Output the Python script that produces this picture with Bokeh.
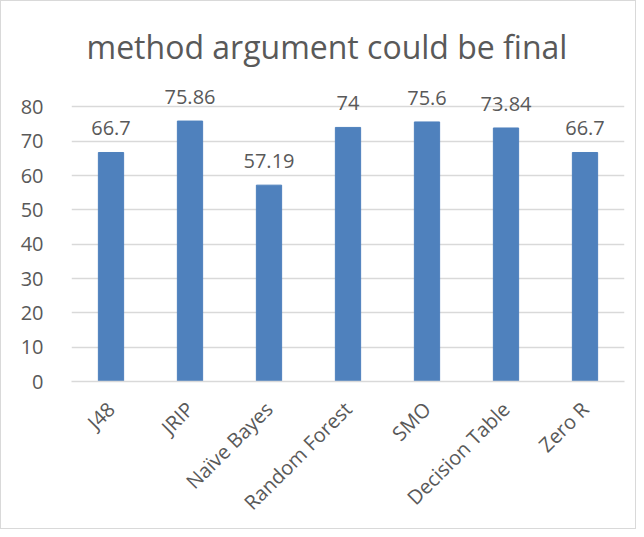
import math
from bokeh.plotting import figure
from bokeh.models import ColumnDataSource, FixedTicker, Range1d
from bokeh.core.properties import value
from bokeh.embed import file_html
from bokeh.resources import INLINE

categories = ["J48", "JRIP", "Naïve Bayes", "Random Forest", "SMO", "Decision Table", "Zero R"]
scores = [66.7, 75.86, 57.19, 74, 75.6, 73.84, 66.7]
labels = ["66.7", "75.86", "57.19", "74", "75.6", "73.84", "66.7"]
y_ticks = [0, 10, 20, 30, 40, 50, 60, 70, 80]

FONT = "Open Sans"
TXT = "#595959"
BAR = "#4f81bd"
GRID = "#d9d9d9"

src = ColumnDataSource(dict(cat=categories, val=scores, lab=labels))

p = figure(x_range=categories, y_range=Range1d(0, 90), width=636, height=529,
           output_backend="svg", toolbar_location=None,
           min_border_left=70, min_border_right=13, min_border_top=71, min_border_bottom=149)

p.title.text = "method argument could be final"
p.title.text_font = FONT
p.title.text_font_size = "32px"
p.title.text_font_style = "normal"
p.title.text_color = TXT
p.title.align = "left"
p.title.offset = 15

p.vbar(x="cat", top="val", width=0.32, source=src, color=BAR, line_color=BAR)
p.text(x="cat", y="val", text="lab", source=src, text_align="center", text_baseline="middle",
       y_offset=-24, text_font=value(FONT), text_font_size="20px", text_color=TXT)

p.outline_line_color = None
p.xgrid.grid_line_color = None
p.ygrid.grid_line_color = GRID
p.ygrid.grid_line_width = 1.5
p.yaxis.ticker = FixedTicker(ticks=y_ticks)
p.yaxis.axis_line_color = None
p.yaxis.major_tick_line_color = None
p.yaxis.minor_tick_line_color = None
p.yaxis.major_label_text_font = FONT
p.yaxis.major_label_text_font_size = "20px"
p.yaxis.major_label_text_color = TXT
p.yaxis.major_label_standoff = 22

p.xaxis.axis_line_color = GRID
p.xaxis.axis_line_width = 1.5
p.xaxis.major_tick_line_color = None
p.xaxis.minor_tick_line_color = None
p.xaxis.major_label_orientation = math.pi / 4
p.xaxis.major_label_text_font = FONT
p.xaxis.major_label_text_font_size = "20px"
p.xaxis.major_label_text_color = TXT
p.xaxis.major_label_standoff = 18

p.styles = {"border": "1px solid #d9d9d9"}

open("out.html", "w").write(file_html(p, INLINE))
